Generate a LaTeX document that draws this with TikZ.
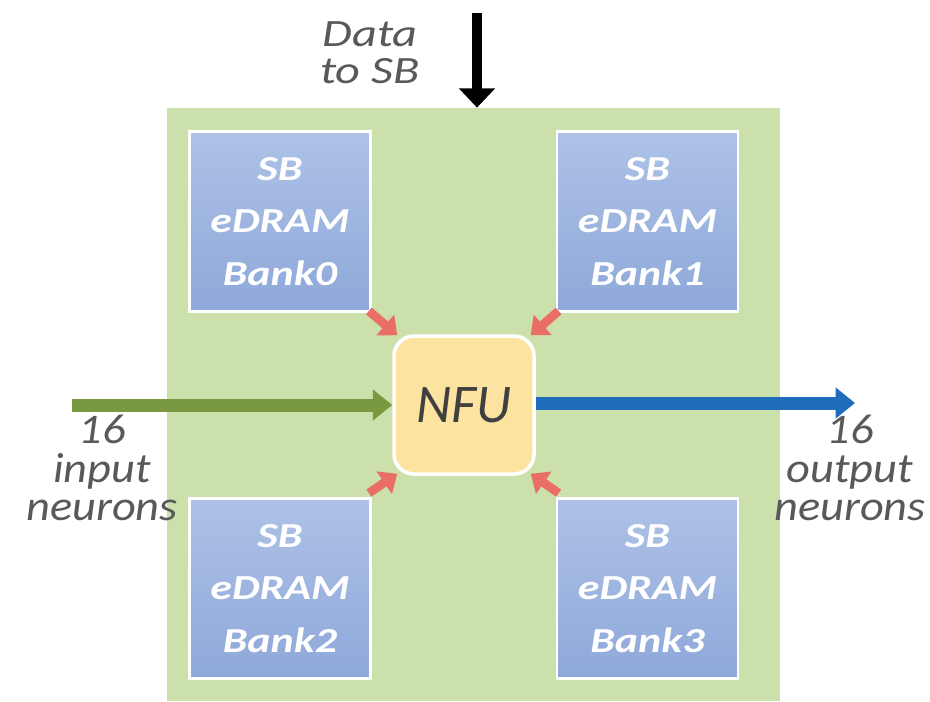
\documentclass[tikz,border=0pt]{standalone}
\usepackage{fontspec}
\setmainfont{Carlito}
\newfontfamily\widefont[FakeStretch=1.25]{Carlito}
\newfontfamily\iofont[FakeStretch=1.1]{Carlito}
\usetikzlibrary{arrows.meta,calc}

\definecolor{chipgreen}{RGB}{204,224,172}
\definecolor{banktop}{RGB}{174,194,230}
\definecolor{bankbot}{RGB}{142,168,218}
\definecolor{nfuyellow}{RGB}{252,228,160}
\definecolor{ingreen}{RGB}{122,152,64}
\definecolor{outblue}{RGB}{30,108,186}
\definecolor{feedred}{RGB}{232,110,102}
\definecolor{labelgray}{RGB}{89,89,89}
\definecolor{nfugray}{RGB}{64,64,64}

\begin{document}
\begin{tikzpicture}[
    chip/.style={fill=chipgreen, minimum width=12.26cm, minimum height=11.86cm, inner sep=0pt},
    bank/.style={draw=white, line width=1.6pt, top color=banktop, bottom color=bankbot,
        minimum width=3.62cm, minimum height=3.6cm, inner sep=0pt, align=center, text=white,
        font=\widefont\bfseries\itshape\fontsize{20}{30}\selectfont},
    nfubox/.style={draw=white, line width=2pt, fill=nfuyellow, rounded corners=0.4cm,
        minimum width=2.8cm, minimum height=2.76cm, text=nfugray,
        font=\itshape\fontsize{31}{37}\selectfont},
    iolabel/.style={align=center, text=labelgray, font=\iofont\itshape\fontsize{24}{22}\selectfont},
    feed/.style={feedred, line width=5pt, -{Triangle[length=9pt, width=15pt]}},
    bigarrow/.style={line width=7.4pt, -{Triangle[length=11pt, width=17pt]}}
]
    % Canvas
    \useasboundingbox (0,0) rectangle (18.6,-14.02);

    % Chip and its blocks
    \node[chip] (chip) at (9.47,-8.09) {};
    \node[bank] (bank0) at (5.6,-4.43) {SB\\eDRAM\\Bank0};
    \node[bank] (bank1) at (12.95,-4.43) {SB\\eDRAM\\Bank1};
    \node[bank] (bank2) at (5.6,-11.77) {SB\\eDRAM\\Bank2};
    \node[bank] (bank3) at (12.95,-11.77) {SB\\eDRAM\\Bank3};
    \node[nfubox] (nfu) at (9.28,-8.1) {NFU};

    % Free ends of the arrows
    \coordinate (dataTop) at (9.54,-0.26);
    \coordinate (inStart) at (1.44,-8.1);
    \coordinate (outEnd) at (17.1,-8.06);

    % Banks feed the NFU
    \draw[feed] ($(bank0.south east)+(-0.06,0.04)$) -- ($(nfu.north west)+(0.1,-0.02)$);
    \draw[feed] ($(bank1.south west)+(0.06,0.04)$) -- ($(nfu.north east)+(-0.1,-0.02)$);
    \draw[feed] ($(bank2.north east)+(-0.06,0.08)$) -- ($(nfu.south west)+(0.1,0.04)$);
    \draw[feed] ($(bank3.north west)+(0.06,0.08)$) -- ($(nfu.south east)+(-0.1,0.04)$);

    % Data paths
    \draw[line width=5.5pt, -{Triangle[length=11pt, width=20pt]}] (dataTop) -- (dataTop |- chip.north);
    \draw[bigarrow, ingreen] (inStart) -- (inStart -| nfu.west);
    \draw[bigarrow, outblue] (nfu.east |- outEnd) -- (outEnd);

    % Labels
    \node[align=center, text=labelgray, font=\widefont\itshape\fontsize{22}{21}\selectfont] (data) at (7.4,-1.06) {Data\\to SB};
    \node[iolabel] (inLabel) at (2.04,-9.36) {16\\input\\neurons};
    \node[iolabel] (outLabel) at (17.0,-9.36) {16\\output\\neurons};
\end{tikzpicture}
\end{document}
